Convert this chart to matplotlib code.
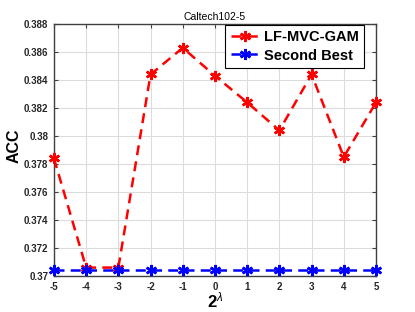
import numpy as np
import matplotlib.pyplot as plt

plt.rcParams['font.family'] = ['Liberation Sans', 'DejaVu Sans']
plt.rcParams['mathtext.fontset'] = 'custom'
plt.rcParams['mathtext.rm'] = 'Liberation Sans'
plt.rcParams['mathtext.it'] = 'Liberation Sans:italic'
plt.rcParams['mathtext.bf'] = 'Liberation Sans:bold'

# x axis: log2 of lambda
lam = [-5, -4, -3, -2, -1, 0, 1, 2, 3, 4, 5]
acc_ours = [0.3784, 0.3706, 0.3706, 0.3844, 0.3863, 0.3843, 0.3824, 0.3804, 0.3844, 0.3785, 0.3824]
acc_second = [0.37045] * 11
yticks = [0.37, 0.372, 0.374, 0.376, 0.378, 0.38, 0.382, 0.384, 0.386, 0.388]
ytick_labels = ['0.37', '0.372', '0.374', '0.376', '0.378', '0.38', '0.382', '0.384', '0.386', '0.388']

fig = plt.figure(figsize=(4.15, 3.12), dpi=100)
ax = fig.add_axes([0.130, 0.1154, 0.776, 0.8076])

style = dict(marker=(6, 2, 0), markersize=8, markeredgewidth=1.8, linewidth=1.8,
             dashes=(4, 2.5), clip_on=False, zorder=3)
ax.plot(lam, acc_ours, color='red', linestyle='--', label='LF-MVC-GAM', **style)
ax.plot(lam, acc_second, color='blue', linestyle='--', label='Second Best', **style)

ax.set_xlim(-5, 5)
ax.set_ylim(0.37, 0.388)
ax.set_xticks(lam)
ax.set_xticklabels([str(v) for v in lam], fontsize=7, fontweight='bold', color='#262626')
ax.set_yticks(yticks)
ax.set_yticklabels(ytick_labels, fontsize=7, fontweight='bold', color='#262626')
ax.tick_params(direction='in', length=3, width=0.8, top=True, right=True, color='#404040', pad=4)
ax.grid(True, color='#dcdcdc', linewidth=0.8)
ax.set_axisbelow(True)
for s in ax.spines.values():
    s.set_color('#404040')
    s.set_linewidth(1.0)

ax.set_title('Caltech102-5', fontsize=7.5, pad=3)
ax.set_xlabel(r'$\mathbf{2}^{\lambda}$', fontsize=12)
ax.xaxis.set_label_coords(0.5, -0.058)
ax.xaxis.label.set_va('top')
ax.set_ylabel('ACC', fontsize=11.5, fontweight='bold')
ax.yaxis.set_label_coords(-0.123, 0.516)
ax.yaxis.label.set_va('center')

leg = ax.legend(loc='upper right', bbox_to_anchor=(0.963, 0.996), borderaxespad=0,
                prop={'weight': 'bold', 'size': 10.5}, fancybox=False,
                framealpha=1, edgecolor='black', borderpad=0.35, handlelength=2.0,
                handletextpad=0.3, labelspacing=0.3)
leg.get_frame().set_linewidth(0.8)

fig.savefig('out.png', dpi=100)
